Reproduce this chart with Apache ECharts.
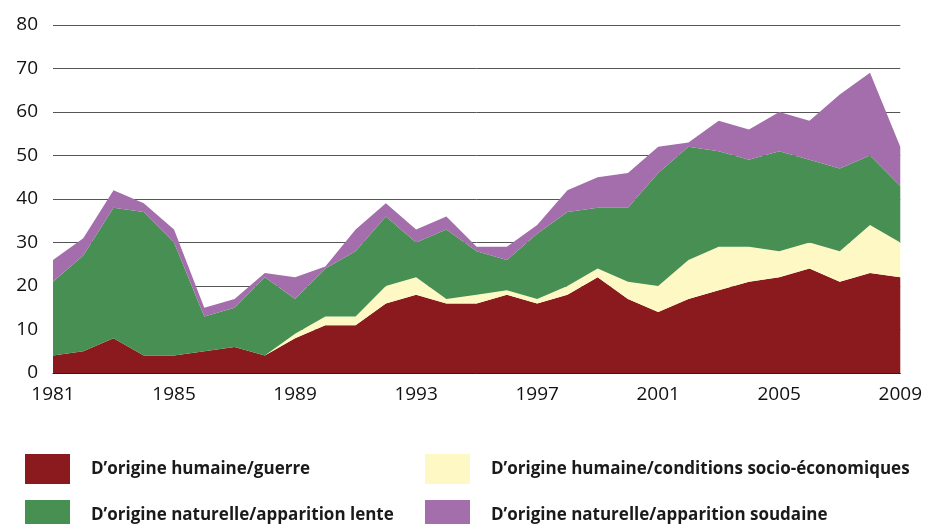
<!DOCTYPE html>
<html>
<head>
<meta charset="utf-8">
<script src="https://cdn.jsdelivr.net/npm/echarts@6/dist/echarts.min.js"></script>
<style>
  html, body { margin: 0; padding: 0; background: #fff; }
  #chart { width: 925px; height: 524px; }
</style>
</head>
<body>
<div id="chart"></div>
<script>
// Data
const years = ['1981', '1982', '1983', '1984', '1985', '1986', '1987', '1988', '1989', '1990',
    '1991', '1992', '1993', '1994', '1995', '1996', '1997', '1998', '1999', '2000',
    '2001', '2002', '2003', '2004', '2005', '2006', '2007', '2008', '2009'];
const guerre = [4, 5, 8, 4, 4, 5, 6, 4, 8, 11, 11, 16, 18, 16, 16, 18, 16, 18, 22, 17, 14, 17, 19, 21, 22, 24, 21, 23, 22];
const socioEco = [0, 0, 0, 0, 0, 0, 0, 0, 1, 2, 2, 4, 4, 1, 2, 1, 1, 2, 2, 4, 6, 9, 10, 8, 6, 6, 7, 11, 8];
const lente = [17, 22, 30, 33, 26, 8, 9, 18, 8, 11, 15, 16, 8, 16, 10, 7, 15, 17, 14, 17, 26, 26, 22, 20, 23, 19, 19, 16, 13];
const soudaine = [5, 4, 4, 2, 3, 2, 2, 1, 5, 0.5, 5, 3, 3, 3, 1, 3, 2, 5, 7, 8, 6, 1, 7, 7, 9, 9, 17, 19, 9];

const names = [
    'D\u2019origine humaine/guerre',
    'D\u2019origine humaine/conditions socio-économiques',
    'D\u2019origine naturelle/apparition lente',
    'D\u2019origine naturelle/apparition soudaine'
];
const colors = ['#8a1a1e', '#fef9c4', '#488f53', '#a36eab'];

const chart = echarts.init(document.getElementById('chart'));

function area(name, data, color) {
    return {
        name: name,
        type: 'line',
        stack: 'total',
        data: data,
        symbol: 'none',
        lineStyle: { width: 0 },
        itemStyle: { color: color },
        areaStyle: { color: color, opacity: 1 }
    };
}

// one legend per item so the 2x2 layout is fixed
function legendItem(name, left, top) {
    return {
        data: [name],
        left: left,
        top: top,
        itemWidth: 45,
        itemHeight: 30,
        icon: 'rect',
        selectedMode: false,
        textStyle: {
            fontFamily: 'Open Sans',
            fontSize: 17,
            fontWeight: 'bold',
            color: '#1a1a1a',
            padding: [0, 0, 0, 16]
        }
    };
}

const option = {
    animation: false,
    textStyle: { fontFamily: 'Open Sans' },
    grid: { left: 53, right: 20, top: 25, bottom: 151 },
    legend: [
        legendItem(names[0], 20, 449),
        legendItem(names[1], 420, 449),
        legendItem(names[2], 20, 495),
        legendItem(names[3], 420, 495)
    ],
    xAxis: {
        type: 'category',
        data: years,
        boundaryGap: false,
        axisLine: { show: true, lineStyle: { color: '#222', width: 1 } },
        axisTick: { show: false },
        axisLabel: {
            interval: 3,
            margin: 12,
            fontSize: 19,
            color: '#111'
        }
    },
    yAxis: {
        type: 'value',
        min: 0,
        max: 80,
        interval: 10,
        axisLine: { show: false },
        axisTick: { show: false },
        axisLabel: { margin: 15, fontSize: 19, color: '#111' },
        splitLine: { lineStyle: { color: '#555', width: 1 } }
    },
    series: [
        area(names[0], guerre, colors[0]),
        area(names[1], socioEco, colors[1]),
        area(names[2], lente, colors[2]),
        area(names[3], soudaine, colors[3])
    ]
};
chart.setOption(option);
</script>
</body>
</html>
